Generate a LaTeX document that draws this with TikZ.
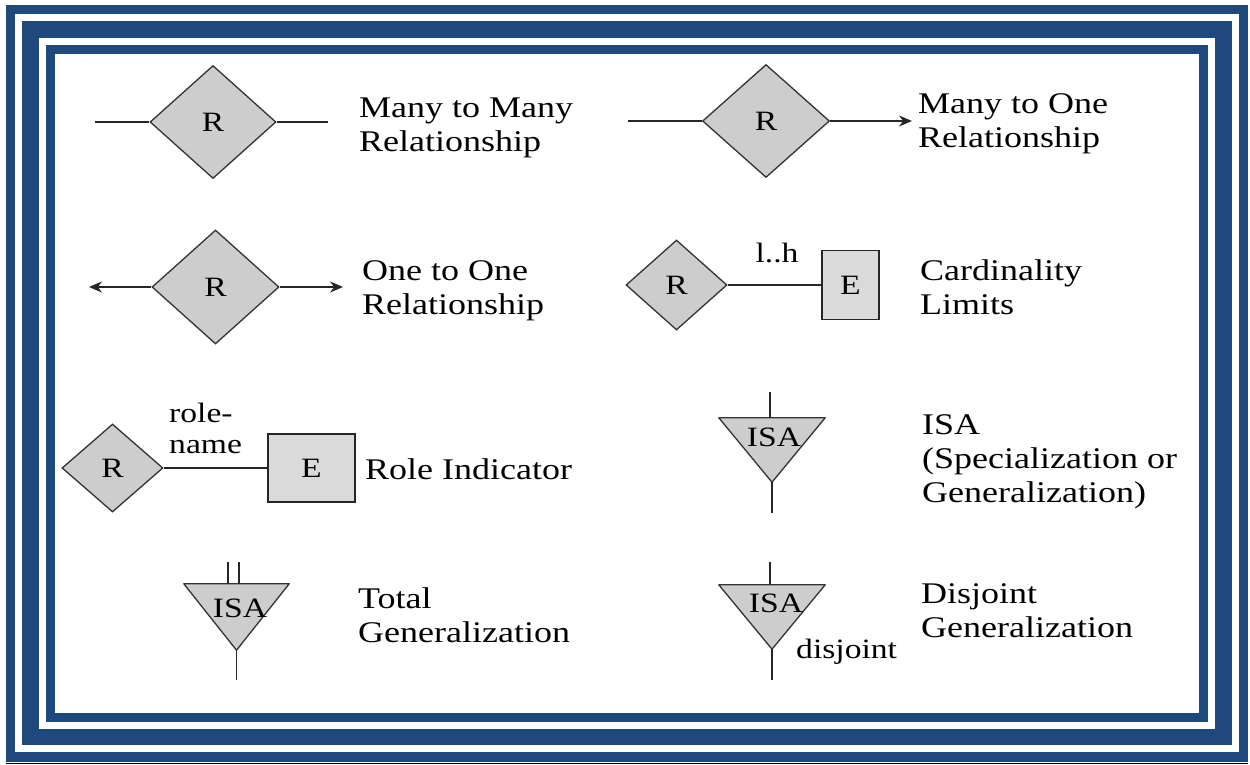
\documentclass[tikz,border=0pt]{standalone}
\usepackage{fontspec}
\setmainfont{Liberation Serif}
\usepackage{graphicx}
\usetikzlibrary{shapes.geometric,arrows.meta}
\definecolor{frameblue}{RGB}{31,73,125}
\definecolor{relgray}{RGB}{205,205,205}
\definecolor{entgray}{RGB}{218,218,218}
\newcommand\bigtxt{\fontsize{30}{34}\selectfont}
\newcommand\smtxt{\fontsize{28}{31}\selectfont}
\newcommand\hstretch[1]{\scalebox{1.2}[1]{#1}}
\newcommand\desctext[1]{\hstretch{\begin{tabular}[t]{@{}l@{}}#1\end{tabular}}}
\tikzset{
  rel/.style={diamond, draw=black!80, line width=1.3pt, fill=relgray, inner sep=0pt, font=\smtxt},
  ent/.style={rectangle, draw=black!85, line width=1.6pt, fill=entgray, inner sep=0pt, font=\smtxt},
  isabox/.style={rectangle, inner sep=0pt},
  isatri/.style={fill=relgray, draw=black!80, line width=1.3pt, line join=round},
  conn/.style={line width=1.8pt, draw=black!85},
  arr/.style={conn, -{Stealth[length=13pt,width=11pt]}},
  desclabel/.style={anchor=base west, inner sep=0pt, font=\bigtxt},
  smalltext/.style={inner sep=0pt, font=\smtxt},
}
\begin{document}
\begin{tikzpicture}[x=1pt,y=-1pt]
\useasboundingbox (0,0) rectangle (1250,765);
\fill[white] (0,0) rectangle (1250,765);
% frame
\fill[frameblue] (6,5) rectangle (1248,762);
\fill[white] (15,14) rectangle (1239,752);
\fill[frameblue] (22,21) rectangle (1232,745);
\fill[white] (39,38) rectangle (1215,729);
\fill[frameblue] (46,45) rectangle (1208,722);
\fill[white] (55,54) rectangle (1199,713);
\draw[line width=1.5pt] (6,763.5) -- (1248,763.5);

% Row 1 left: many to many
\node[rel, minimum width=126pt, minimum height=113pt] (d1) at (213,122) {\hstretch{R}};
\coordinate (a1) at (95,122);
\coordinate (b1) at (328,122);
\draw[conn] (a1) -- (d1);
\draw[conn] (d1) -- (b1);
\node[desclabel] (t1) at (359,118) {\desctext{Many to Many\\Relationship}};

% Row 1 right: many to one
\node[rel, minimum width=127pt, minimum height=113pt] (d2) at (766,121) {\hstretch{R}};
\coordinate (a2) at (628,121);
\coordinate (b2) at (912,121);
\draw[conn] (a2) -- (d2);
\draw[arr] (d2) -- (b2);
\node[desclabel] (t2) at (918,114) {\desctext{Many to One\\Relationship}};

% Row 2 left: one to one
\node[rel, minimum width=127pt, minimum height=114pt] (d3) at (215.5,287) {\hstretch{R}};
\coordinate (a3) at (89,287);
\coordinate (b3) at (343,287);
\draw[arr] (d3) -- (a3);
\draw[arr] (d3) -- (b3);
\node[desclabel] (t3) at (362,280) {\desctext{One to One\\Relationship}};

% Row 2 right: cardinality limits
\node[rel, minimum width=101pt, minimum height=90pt] (d4) at (676.5,285) {\hstretch{R}};
\node[ent, minimum width=57pt, minimum height=69pt] (e4) at (850.5,285) {\hstretch{E}};
\draw[conn] (d4) -- (e4);
\node[smalltext, anchor=base] (c4) at (777,262) {\hstretch{l..h}};
\node[desclabel] (t4) at (920,280) {\desctext{Cardinality\\Limits}};

% Row 3 left: role indicator
\node[rel, minimum width=101pt, minimum height=88pt] (d5) at (112.5,468) {\hstretch{R}};
\node[ent, minimum width=87pt, minimum height=68pt] (e5) at (311.5,468) {\hstretch{E}};
\draw[conn] (d5) -- (e5);
\node[smalltext, anchor=base west] (r5) at (169,422) {\desctext{role-\\name}};
\node[desclabel] (t5) at (365,479) {\desctext{Role Indicator}};

% Row 3 right: ISA
\node[isabox, minimum width=106pt, minimum height=64pt] (i6) at (772,450) {};
\draw[isatri] (i6.north west) -- (i6.north east) -- (i6.south) -- cycle;
\node[smalltext] (s6) at (774,437) {\hstretch{ISA}};
\coordinate (u6) at (770,392);
\coordinate (l6) at (772,513);
\draw[conn] (u6) -- (u6 |- i6.north);
\draw[conn] (i6.south) -- (l6);
\node[desclabel] (t6) at (922,434) {\desctext{ISA\\(Specialization or\\Generalization)}};

% Row 4 left: total generalization
\node[isabox, minimum width=105pt, minimum height=66pt] (i7) at (236.5,617) {};
\draw[isatri] (i7.north west) -- (i7.north east) -- (i7.south) -- cycle;
\node[smalltext] (s7) at (240,608) {\hstretch{ISA}};
\coordinate (u7a) at (228,562);
\coordinate (u7b) at (239,562);
\coordinate (l7) at (236.5,680);
\draw[conn] (u7a) -- (u7a |- i7.north);
\draw[conn] (u7b) -- (u7b |- i7.north);
\draw[conn] (i7.south) -- (l7);
\node[desclabel] (t7) at (358,608) {\desctext{Total\\Generalization}};

% Row 4 right: disjoint generalization
\node[isabox, minimum width=106pt, minimum height=64pt] (i8) at (772,617) {};
\draw[isatri] (i8.north west) -- (i8.north east) -- (i8.south) -- cycle;
\node[smalltext] (s8) at (776,603) {\hstretch{ISA}};
\coordinate (u8) at (770,562);
\coordinate (l8) at (772,680);
\draw[conn] (u8) -- (u8 |- i8.north);
\draw[conn] (i8.south) -- (l8);
\node[smalltext, anchor=base west] (dj8) at (796,658) {\hstretch{disjoint}};
\node[desclabel] (t8) at (921,603) {\desctext{Disjoint\\Generalization}};
\end{tikzpicture}
\end{document}
